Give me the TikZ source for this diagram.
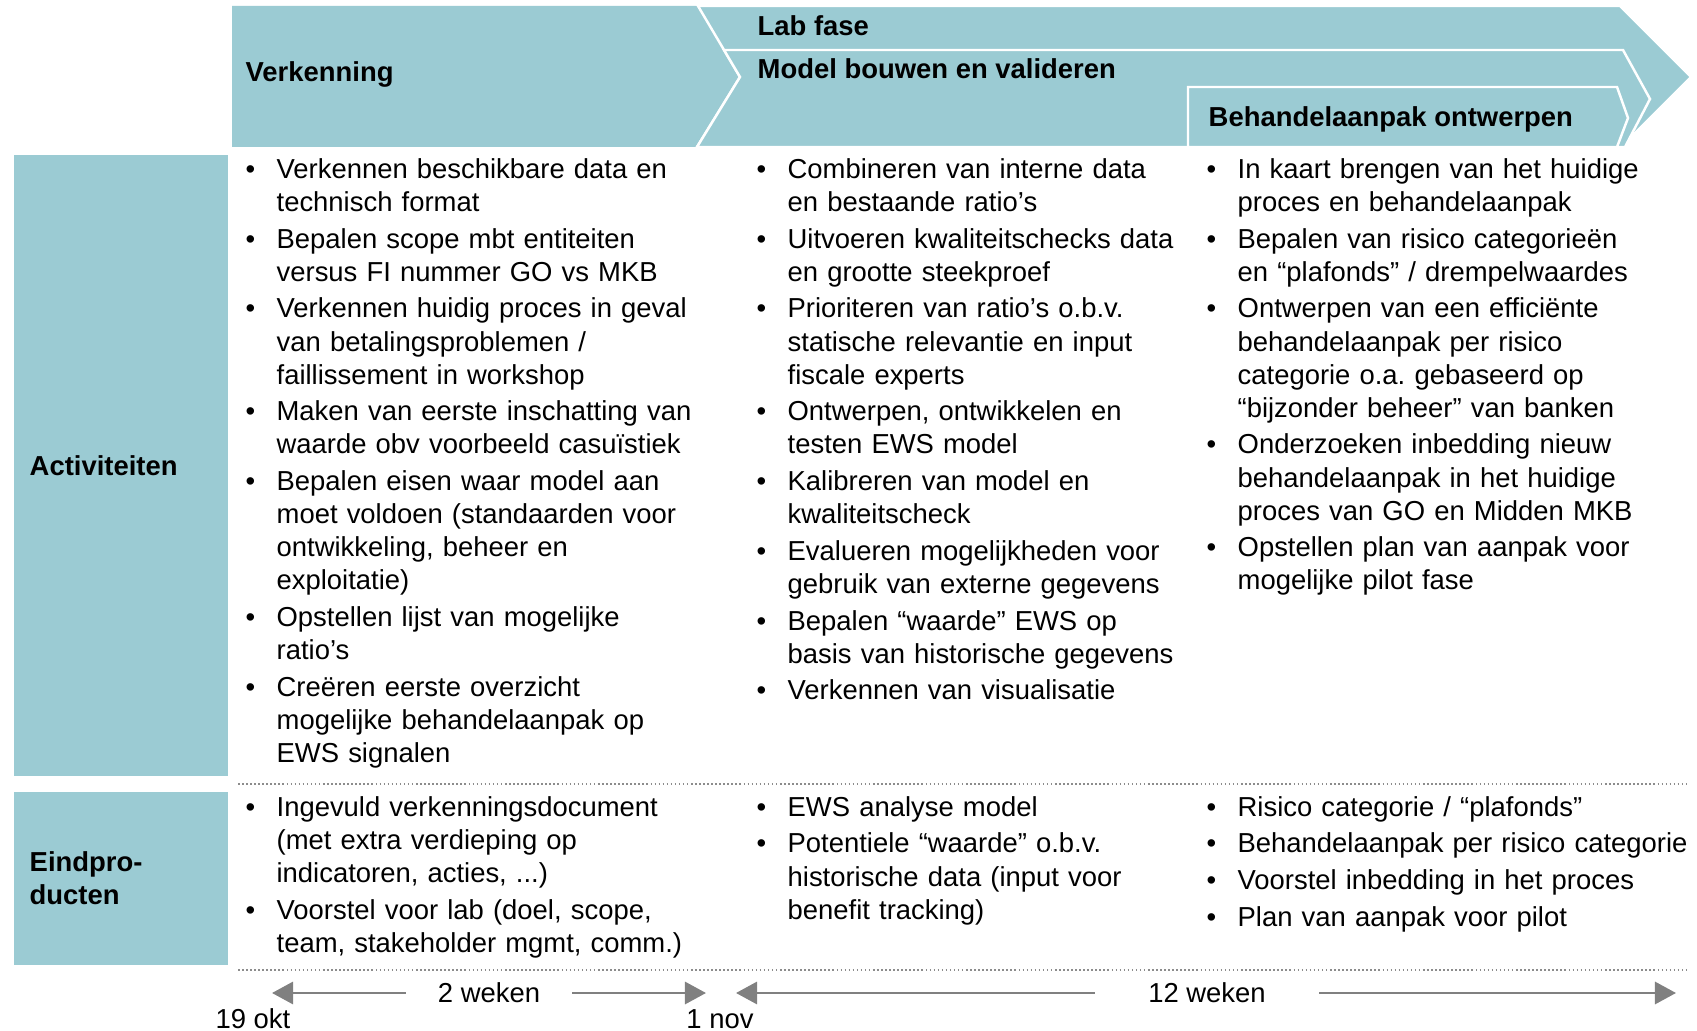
\documentclass[tikz,border=0pt]{standalone}
\usepackage{fontspec}
\setmainfont{Liberation Sans}
\usetikzlibrary{arrows.meta, positioning}
\definecolor{tealbg}{RGB}{155,203,211}
\newlength\hangw
\setlength\hangw{8.8pt}
\newcommand\txt{\fontsize{7.8}{9.42}\selectfont\frenchspacing}
\newcommand\itm[1]{\par\hangindent=\hangw\hangafter=1\noindent\makebox[\hangw][l]{\textbullet}#1\par}

\begin{document}
\begin{tikzpicture}[x=0.01cm, y=-0.01cm]
\tikzstyle{phase}=[fill=tealbg, draw=white, line width=0.7pt]
\tikzstyle{head}=[anchor=west, inner sep=0pt, font=\txt\bfseries]
\tikzstyle{side}=[fill=tealbg, anchor=north west, minimum width=2.14cm, text width=1.82cm, inner xsep=0.16cm, align=left, font=\txt\bfseries]
\tikzstyle{cell}=[anchor=north west, inner sep=0pt, text width=5.3cm, font=\txt, execute at begin node={\setlength{\parskip}{1pt}}]
\tikzstyle{lbl}=[inner sep=0pt, font=\txt]
\tikzstyle{sep}=[black!45, line width=0.6pt, dash pattern=on 0.45pt off 0.7pt]
\tikzstyle{span}=[-{Triangle[length=6pt, width=6.3pt]}, black!50, line width=0.8pt]
    \useasboundingbox (0,0) rectangle (1697,1031);
    \fill[tealbg] (232,6) -- (698,6) -- (740,77) -- (697,147) -- (232,147) -- cycle;
    \draw[phase] (698,6) -- (1620,6) -- (1691,77) -- (1620,148) -- (697,147) -- (740,77) -- cycle;
    \draw[phase] (724,50) -- (1623,50) -- (1650,99) -- (1625,147) -- (697,147) -- (740,77) -- cycle;
    \draw[phase] (1188,87) -- (1617,87) -- (1628,118) -- (1617,147) -- (1188,147) -- cycle;
    \node[head] (verk) at (245,74) {Verkenning};
    \node[head] (lab) at (757,26) {Lab fase};
    \node[head] (model) at (757,69) {Model bouwen en valideren};
    \node[head] (behand) at (1208,119) {Behandelaanpak ontwerpen};

    \node[side, minimum height=6.21cm] (act) at (13,154) {Activiteiten};
    \node[side, minimum height=1.73cm] (eind) at (13,791) {Eindpro-\\ducten};

    \node[cell] (act1) at (245,141) {%
      \itm{Verkennen beschikbare data en\newline technisch format}
      \itm{Bepalen scope mbt entiteiten\newline versus FI nummer GO vs MKB}
      \itm{Verkennen huidig proces in geval\newline van betalingsproblemen /\newline faillissement in workshop}
      \itm{Maken van eerste inschatting van\newline waarde obv voorbeeld casuïstiek}
      \itm{Bepalen eisen waar model aan\newline moet voldoen (standaarden voor\newline ontwikkeling, beheer en\newline exploitatie)}
      \itm{Opstellen lijst van mogelijke\newline ratio’s}
      \itm{Creëren eerste overzicht\newline mogelijke behandelaanpak op\newline EWS signalen}};
    \node[cell] (act2) at (756,141) {%
      \itm{Combineren van interne data\newline en bestaande ratio’s}
      \itm{Uitvoeren kwaliteitschecks data\newline en grootte steekproef}
      \itm{Prioriteren van ratio’s o.b.v.\newline statische relevantie en input\newline fiscale experts}
      \itm{Ontwerpen, ontwikkelen en\newline testen EWS model}
      \itm{Kalibreren van model en\newline kwaliteitscheck}
      \itm{Evalueren mogelijkheden voor\newline gebruik van externe gegevens}
      \itm{Bepalen “waarde” EWS op\newline basis van historische gegevens}
      \itm{Verkennen van visualisatie}};
    \node[cell] (act3) at (1206,141) {%
      \itm{In kaart brengen van het huidige\newline proces en behandelaanpak}
      \itm{Bepalen van risico categorieën\newline en “plafonds” / drempelwaardes}
      \itm{Ontwerpen van een efficiënte\newline behandelaanpak per risico\newline categorie o.a. gebaseerd op\newline “bijzonder beheer” van banken}
      \itm{Onderzoeken inbedding nieuw\newline behandelaanpak in het huidige\newline proces van GO en Midden MKB}
      \itm{Opstellen plan van aanpak voor\newline mogelijke pilot fase}};

    \node[cell] (eind1) at (245,779) {%
      \itm{Ingevuld verkenningsdocument\newline (met extra verdieping op\newline indicatoren, acties, ...)}
      \itm{Voorstel voor lab (doel, scope,\newline team, stakeholder mgmt, comm.)}};
    \node[cell] (eind2) at (756,779) {%
      \itm{EWS analyse model}
      \itm{Potentiele “waarde” o.b.v.\newline historische data (input voor\newline benefit tracking)}};
    \node[cell] (eind3) at (1206,779) {%
      \itm{Risico categorie / “plafonds”}
      \itm{Behandelaanpak per risico categorie}
      \itm{Voorstel inbedding in het proces}
      \itm{Plan van aanpak voor pilot}};

    \draw[sep] (238,784) -- (1688,784);
    \draw[sep] (238,970) -- (1688,970);

    \coordinate (start) at (272,993);
    \coordinate (nov1) at (706,993);
    \coordinate (nov2) at (736,993);
    \coordinate (stop) at (1676,993);
    \node[lbl, inner xsep=9pt] (w2) at (489,993) {2 weken};
    \node[lbl, inner xsep=15pt] (w12) at (1207,993) {12 weken};
    \draw[span] (w2) -- (start);
    \draw[span] (w2) -- (nov1);
    \draw[span] (w12) -- (nov2);
    \draw[span] (w12) -- (stop);
    \node[lbl] (okt19) at (253,1019) {19 okt};
    \node[lbl] (nov) at (720,1019) {1 nov};
\end{tikzpicture}
\end{document}
